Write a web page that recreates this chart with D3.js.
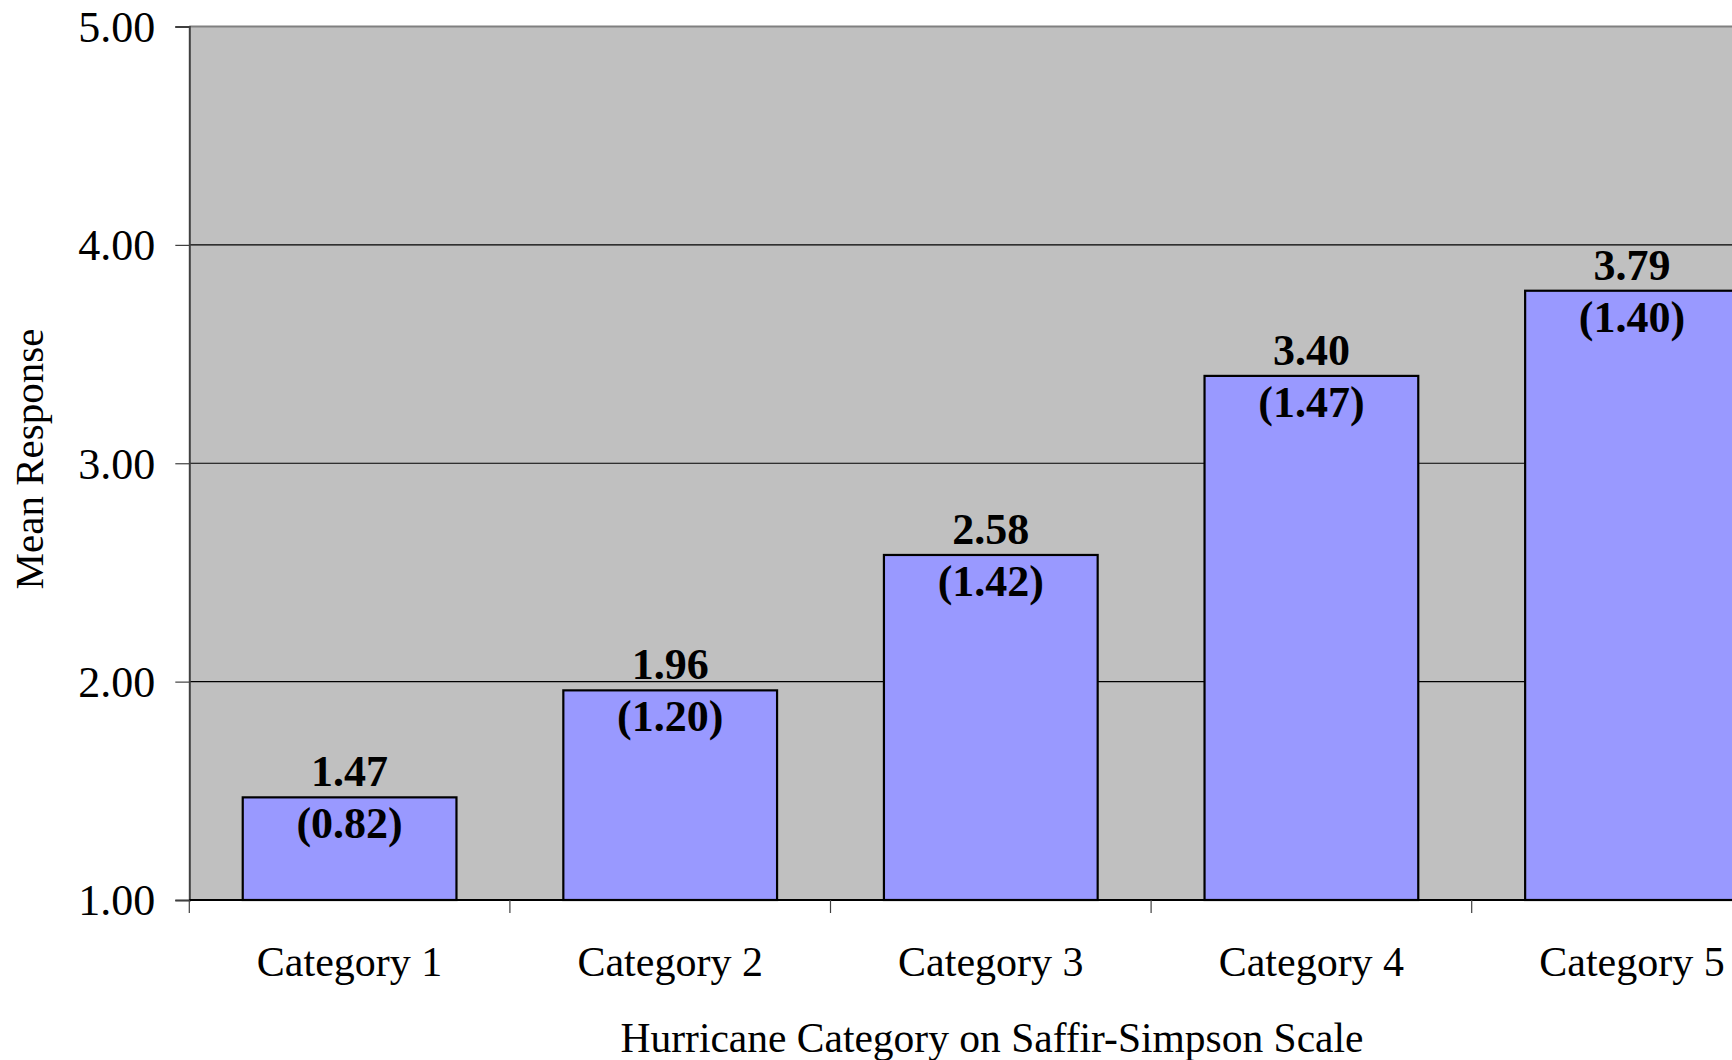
<!DOCTYPE html>
<html>
<head>
<meta charset="utf-8">
<script src="https://cdn.jsdelivr.net/npm/d3@7"></script>
<style>
  html, body { margin: 0; padding: 0; background: #fff; overflow: hidden; }
  svg { display: block; }
  text { font-family: "Liberation Serif", "Times New Roman", serif; fill: #000; }
</style>
</head>
<body>
<svg id="chart" width="1732" height="1060"></svg>
<script>
const categories = ["Category 1", "Category 2", "Category 3", "Category 4", "Category 5"];
const means = [1.47, 1.96, 2.58, 3.40, 3.79];
const sds = [0.82, 1.20, 1.42, 1.47, 1.40];
const yTicks = [1, 2, 3, 4, 5];
const yTitle = "Mean Response";
const xTitle = "Hurricane Category on Saffir-Simpson Scale";

(function () {
const svg = d3.select("#chart");
const pLeft = 189.3, pTop = 26.5, pBottom = 900, band = 320.6;
const pRight = pLeft + band * categories.length;

const x = d3.scaleBand().domain(categories).range([pLeft, pRight]).paddingInner(1/3).paddingOuter(1/6);
const y = d3.scaleLinear().domain([1, 5]).range([pBottom, pTop]);

// plot area
svg.append("rect").attr("x", pLeft).attr("y", pTop).attr("width", pRight - pLeft).attr("height", pBottom - pTop)
  .attr("fill", "#C0C0C0");

// gridlines
svg.append("g").selectAll("line").data(yTicks.filter(d => d > 1 && d < 5)).join("line")
  .attr("x1", pLeft).attr("x2", pRight).attr("y1", d => y(d)).attr("y2", d => y(d))
  .attr("stroke", "#000").attr("stroke-width", 1.2);
// top border
svg.append("line").attr("x1", pLeft).attr("x2", pRight).attr("y1", y(5)).attr("y2", y(5))
  .attr("stroke", "#808080").attr("stroke-width", 2);

// bars
svg.append("g").selectAll("rect").data(means).join("rect")
  .attr("x", (d, i) => x(categories[i]))
  .attr("y", d => y(d))
  .attr("width", x.bandwidth())
  .attr("height", d => y(1) - y(d))
  .attr("fill", "#9999FF").attr("stroke", "#000").attr("stroke-width", 2.2);

// value labels
const lab = svg.append("g").attr("font-weight", "bold").attr("font-size", 44).attr("text-anchor", "middle");
lab.selectAll("text.m").data(means).join("text").attr("class", "m")
  .attr("x", (d, i) => x(categories[i]) + x.bandwidth() / 2)
  .attr("y", d => y(d) - 11)
  .text(d => d.toFixed(2));
lab.selectAll("text.s").data(sds).join("text").attr("class", "s")
  .attr("x", (d, i) => x(categories[i]) + x.bandwidth() / 2)
  .attr("y", (d, i) => y(means[i]) + 41)
  .text(d => "(" + d.toFixed(2) + ")");

// y axis
const yAxis = d3.axisLeft(y).tickValues(yTicks).tickFormat(d3.format(".2f")).tickSize(14).tickPadding(20);
const gy = svg.append("g").attr("transform", `translate(${pLeft},0)`).call(yAxis);
gy.select(".domain").attr("stroke", "#404040").attr("stroke-width", 2);
gy.selectAll(".tick line").attr("stroke", "#404040").attr("stroke-width", 1.2);
gy.selectAll(".tick text").attr("font-size", 44).attr("font-family", "Liberation Serif").attr("fill", "#000").attr("dy", "0.34em");

// x axis
const xTickScale = d3.scaleLinear().domain([0, categories.length]).range([pLeft, pRight]);
svg.append("line").attr("x1", pLeft).attr("x2", pRight).attr("y1", pBottom).attr("y2", pBottom)
  .attr("stroke", "#000").attr("stroke-width", 2);
svg.append("g").selectAll("line").data(d3.range(categories.length + 1)).join("line")
  .attr("x1", d => xTickScale(d)).attr("x2", d => xTickScale(d))
  .attr("y1", pBottom).attr("y2", pBottom + 13)
  .attr("stroke", "#404040").attr("stroke-width", 1.2);
svg.append("g").selectAll("text").data(categories).join("text")
  .attr("x", d => x(d) + x.bandwidth() / 2).attr("y", 976)
  .attr("text-anchor", "middle").attr("font-size", 42).text(d => d);

// titles
svg.append("text").attr("x", 992).attr("y", 1052).attr("text-anchor", "middle").attr("font-size", 41.5).text(xTitle);
svg.append("text").attr("transform", "translate(43,459) rotate(-90)").attr("text-anchor", "middle")
  .attr("font-size", 41).text(yTitle);
})();
</script>
</body>
</html>
